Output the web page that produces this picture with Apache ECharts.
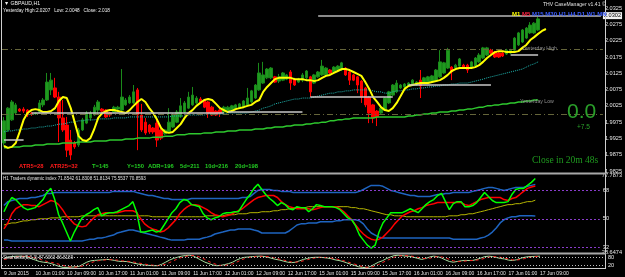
<!DOCTYPE html>
<html><head><meta charset="utf-8">
<script src="https://cdn.jsdelivr.net/npm/echarts@6/dist/echarts.min.js"></script>
<style>html,body{margin:0;padding:0;background:#000;}#c{width:625px;height:277px;}</style>
</head><body><div id="c"></div>
<script>
// ---------- data ----------
const SLOTS = 153; // visible bar slots incl. right shift
const timeLabels = ['9 Jun 2015','10 Jun 01:00','10 Jun 09:00','10 Jun 17:00','11 Jun 01:00','11 Jun 09:00','11 Jun 17:00','12 Jun 01:00','12 Jun 09:00','12 Jun 17:00','15 Jun 01:00','15 Jun 09:00','15 Jun 17:00','16 Jun 01:00','16 Jun 09:00','16 Jun 17:00','17 Jun 01:00','17 Jun 09:00'];
const openP = [
1.9911,1.9951,1.9982,2.0003,2.0015,2.0015,2.0012,2.0003,2.0000,2.0006,
2.0028,2.0043,2.0074,2.0080,2.0052,1.9988,1.9966,1.9920,1.9911,1.9905,
1.9951,1.9972,1.9988,1.9997,2.0012,2.0015,2.0012,2.0003,2.0006,2.0015,
2.0012,2.0028,2.0034,2.0034,2.0074,1.9997,1.9975,1.9966,1.9957,1.9972,
1.9951,1.9939,1.9945,1.9960,1.9975,1.9991,2.0006,2.0018,2.0028,2.0034,
2.0046,2.0043,2.0037,2.0021,2.0009,2.0012,2.0006,2.0009,2.0012,2.0015,
2.0018,2.0021,2.0028,2.0037,2.0049,2.0074,2.0095,2.0111,2.0111,2.0114,
2.0101,2.0104,2.0107,2.0129,2.0107,2.0098,2.0104,2.0111,2.0114,2.0095,
2.0114,2.0120,2.0120,2.0135,2.0129,2.0135,2.0135,2.0141,2.0129,2.0120,
2.0114,2.0101,2.0080,2.0052,2.0028,2.0009,2.0003,2.0012,2.0034,2.0058,
2.0068,2.0080,2.0083,2.0086,2.0089,2.0089,2.0104,2.0095,2.0098,2.0101,
2.0101,2.0114,2.0126,2.0141,2.0144,2.0141,2.0147,2.0150,2.0150,2.0144,
2.0147,2.0160,2.0172,2.0181,2.0196,2.0190,2.0187,2.0187,2.0184,2.0187,
2.0196,2.0212,2.0221,2.0233,2.0249,2.0249,2.0258];
const closeP = [
1.9979,2.0018,2.0037,2.0028,2.0009,2.0009,1.9997,2.0000,2.0003,2.0034,
2.0043,2.0098,2.0104,2.0052,1.9988,1.9951,1.9889,1.9874,1.9899,1.9951,
1.9982,2.0003,2.0003,2.0021,2.0037,2.0009,1.9991,1.9997,2.0021,2.0021,
2.0052,2.0043,2.0052,2.0068,1.9997,1.9951,1.9942,1.9945,1.9945,1.9920,
1.9926,1.9951,1.9975,1.9997,2.0006,2.0025,2.0034,2.0052,2.0058,2.0049,
2.0037,2.0021,2.0003,1.9997,1.9997,2.0003,2.0021,2.0021,2.0025,2.0028,
2.0031,2.0040,2.0049,2.0071,2.0089,2.0126,2.0120,2.0138,2.0141,2.0098,
2.0114,2.0126,2.0120,2.0095,2.0089,2.0107,2.0120,2.0132,2.0068,2.0120,
2.0129,2.0147,2.0141,2.0126,2.0144,2.0147,2.0157,2.0120,2.0104,2.0104,
2.0089,2.0052,2.0028,2.0003,1.9988,1.9991,2.0018,2.0049,2.0068,2.0089,
2.0095,2.0089,2.0092,2.0095,2.0104,2.0098,2.0086,2.0111,2.0114,2.0117,
2.0135,2.0160,2.0157,2.0196,2.0129,2.0150,2.0169,2.0141,2.0135,2.0160,
2.0172,2.0181,2.0203,2.0203,2.0187,2.0175,2.0175,2.0178,2.0196,2.0196,
2.0233,2.0249,2.0258,2.0264,2.0273,2.0279,2.0292];
const highP = [
1.9991,2.0021,2.0043,2.0034,2.0018,2.0021,2.0015,2.0006,2.0006,2.0043,
2.0049,2.0126,2.0126,2.0111,2.0068,2.0043,1.9991,1.9951,1.9917,1.9957,
1.9988,2.0009,2.0009,2.0028,2.0043,2.0018,2.0015,2.0006,2.0025,2.0025,
2.0138,2.0049,2.0058,2.0089,2.0080,2.0031,1.9988,1.9969,1.9960,1.9988,
1.9954,1.9954,2.0018,2.0003,2.0012,2.0049,2.0040,2.0068,2.0083,2.0055,
2.0052,2.0046,2.0040,2.0025,2.0012,2.0015,2.0025,2.0025,2.0028,2.0031,
2.0034,2.0043,2.0080,2.0074,2.0092,2.0157,2.0160,2.0141,2.0144,2.0117,
2.0123,2.0129,2.0123,2.0135,2.0111,2.0111,2.0126,2.0135,2.0117,2.0123,
2.0132,2.0166,2.0144,2.0138,2.0147,2.0150,2.0160,2.0144,2.0132,2.0123,
2.0117,2.0104,2.0083,2.0055,2.0031,2.0012,2.0021,2.0052,2.0071,2.0092,
2.0104,2.0092,2.0095,2.0098,2.0107,2.0101,2.0135,2.0114,2.0117,2.0120,
2.0138,2.0196,2.0160,2.0203,2.0147,2.0154,2.0172,2.0154,2.0154,2.0163,
2.0175,2.0187,2.0206,2.0206,2.0200,2.0193,2.0190,2.0190,2.0200,2.0200,
2.0236,2.0252,2.0261,2.0267,2.0282,2.0282,2.0304];
const lowP = [
1.9902,1.9945,1.9979,2.0000,2.0006,2.0003,1.9991,1.9994,1.9997,2.0003,
2.0021,2.0040,2.0058,2.0049,1.9914,1.9945,1.9868,1.9859,1.9893,1.9899,
1.9948,1.9969,1.9979,1.9994,2.0000,2.0006,1.9988,1.9991,2.0003,2.0012,
2.0009,2.0025,2.0031,2.0031,1.9889,1.9945,1.9936,1.9939,1.9939,1.9899,
1.9920,1.9936,1.9942,1.9957,1.9972,1.9988,2.0003,2.0015,2.0025,2.0031,
2.0034,2.0018,1.9988,1.9994,1.9994,1.9991,2.0003,2.0006,2.0009,2.0012,
2.0015,2.0018,2.0025,2.0034,2.0046,2.0071,2.0092,2.0107,2.0107,2.0095,
2.0095,2.0101,2.0104,2.0074,2.0086,2.0095,2.0098,2.0104,2.0052,2.0092,
2.0111,2.0117,2.0117,2.0123,2.0126,2.0132,2.0132,2.0117,2.0089,2.0101,
2.0064,2.0034,2.0021,1.9972,1.9972,1.9963,2.0000,2.0009,2.0031,2.0055,
2.0064,2.0077,2.0080,2.0083,2.0086,2.0086,2.0049,2.0092,2.0095,2.0098,
2.0098,2.0111,2.0123,2.0138,2.0104,2.0138,2.0144,2.0138,2.0126,2.0141,
2.0144,2.0157,2.0169,2.0178,2.0184,2.0172,2.0172,2.0175,2.0181,2.0184,
2.0193,2.0209,2.0218,2.0230,2.0246,2.0246,2.0255];
const yellowMA = [
1.9902,1.9896,1.9899,1.9911,1.9945,1.9982,2.0003,2.0012,2.0015,2.0012,
2.0006,2.0006,2.0009,2.0018,2.0040,2.0052,2.0049,2.0018,1.9975,1.9932,
1.9920,1.9917,1.9926,1.9954,1.9988,2.0003,2.0009,2.0012,2.0012,2.0009,
2.0006,2.0003,2.0012,2.0025,2.0037,2.0046,2.0037,2.0018,2.0003,1.9982,
1.9957,1.9945,1.9942,1.9945,1.9957,1.9969,1.9988,2.0003,2.0012,2.0025,
2.0034,2.0043,2.0046,2.0043,2.0031,2.0018,2.0012,2.0006,2.0009,2.0015,
2.0018,2.0021,2.0025,2.0028,2.0037,2.0043,2.0068,2.0083,2.0095,2.0107,
2.0111,2.0111,2.0111,2.0111,2.0107,2.0107,2.0107,2.0104,2.0104,2.0101,
2.0104,2.0111,2.0117,2.0120,2.0126,2.0132,2.0138,2.0138,2.0135,2.0129,
2.0123,2.0117,2.0098,2.0077,2.0052,2.0037,2.0021,2.0012,2.0009,2.0018,
2.0034,2.0055,2.0077,2.0086,2.0089,2.0092,2.0095,2.0095,2.0095,2.0098,
2.0101,2.0104,2.0111,2.0120,2.0132,2.0138,2.0141,2.0141,2.0141,2.0141,
2.0144,2.0150,2.0160,2.0172,2.0181,2.0190,2.0193,2.0193,2.0190,2.0190,
2.0190,2.0193,2.0203,2.0212,2.0227,2.0236,2.0246,2.0255,2.0261];
const cyanMA = [
1.9945,1.9948,1.9948,1.9951,1.9951,1.9954,1.9954,1.9957,1.9957,1.9960,
1.9960,1.9963,1.9963,1.9966,1.9969,1.9969,1.9972,1.9975,1.9975,1.9979,
1.9979,1.9982,1.9982,1.9982,1.9985,1.9985,1.9985,1.9985,1.9988,1.9988,
1.9988,1.9988,1.9991,1.9991,1.9991,1.9991,1.9991,1.9991,1.9991,1.9991,
1.9991,1.9991,1.9991,1.9994,1.9994,1.9994,1.9994,1.9997,1.9997,1.9997,
1.9997,1.9997,2.0000,2.0000,2.0000,2.0000,2.0000,2.0003,2.0003,2.0003,
2.0003,2.0003,2.0003,2.0006,2.0009,2.0012,2.0018,2.0021,2.0025,2.0031,
2.0034,2.0037,2.0040,2.0043,2.0046,2.0046,2.0049,2.0049,2.0049,2.0052,
2.0055,2.0058,2.0061,2.0064,2.0064,2.0068,2.0068,2.0071,2.0071,2.0074,
2.0074,2.0074,2.0074,2.0074,2.0071,2.0068,2.0068,2.0064,2.0064,2.0068,
2.0071,2.0071,2.0074,2.0074,2.0077,2.0077,2.0080,2.0080,2.0083,2.0083,
2.0086,2.0086,2.0089,2.0089,2.0092,2.0092,2.0095,2.0095,2.0095,2.0098,
2.0101,2.0104,2.0107,2.0111,2.0114,2.0117,2.0120,2.0123,2.0126,2.0129,
2.0132,2.0135,2.0138,2.0144,2.0150,2.0154,2.0160];
const greenMA = [
1.9896,1.9896,1.9899,1.9899,1.9899,1.9902,1.9902,1.9902,1.9905,1.9905,
1.9905,1.9908,1.9908,1.9908,1.9908,1.9911,1.9911,1.9911,1.9911,1.9914,
1.9914,1.9914,1.9914,1.9917,1.9917,1.9917,1.9917,1.9920,1.9920,1.9920,
1.9920,1.9923,1.9923,1.9923,1.9926,1.9926,1.9926,1.9926,1.9929,1.9929,
1.9929,1.9932,1.9932,1.9932,1.9936,1.9936,1.9936,1.9939,1.9939,1.9939,
1.9939,1.9942,1.9942,1.9942,1.9945,1.9945,1.9945,1.9948,1.9948,1.9948,
1.9951,1.9951,1.9951,1.9951,1.9954,1.9954,1.9954,1.9957,1.9957,1.9960,
1.9960,1.9960,1.9963,1.9963,1.9966,1.9966,1.9966,1.9969,1.9969,1.9972,
1.9972,1.9975,1.9975,1.9979,1.9979,1.9982,1.9982,1.9985,1.9985,1.9988,
1.9988,1.9988,1.9988,1.9988,1.9988,1.9991,1.9991,1.9991,1.9991,1.9991,
1.9991,1.9991,1.9991,1.9994,1.9994,1.9997,1.9997,2.0000,2.0000,2.0003,
2.0003,2.0006,2.0006,2.0006,2.0009,2.0009,2.0012,2.0012,2.0015,2.0015,
2.0018,2.0021,2.0021,2.0025,2.0025,2.0028,2.0028,2.0031,2.0031,2.0034,
2.0034,2.0037,2.0037,2.0040,2.0040,2.0043,2.0043];
// daily reference segments: [startBar, endBar, price]
const dayLines = [[0,5,1.9920],[7,56,2.0003],[57,76,2.0006],[78,99,2.0052],[103,124,2.0089],[129,136,2.0181]];
const yesterdayHigh = 2.0207, yesterdayLow = 2.0048, bidPrice = 2.0302;
const priceTicks = {min:1.9825, max:2.0350, step:0.0025};

const tdiRsi = [
54.5,59.6,63.5,62.2,59.6,57.1,55.8,56.4,57.1,59.6,
62.2,66.7,69.3,62.2,52.6,47.4,41.6,35.9,41.6,46.1,
50.6,52.6,53.9,55.8,57.1,51.9,53.2,53.9,53.9,54.5,
55.8,57.1,58.4,60.9,53.9,41.6,41.6,42.3,42.9,41.6,
42.3,46.1,50.0,53.9,56.4,60.3,62.2,61.6,59.0,58.4,
57.7,53.2,50.6,49.4,50.6,51.3,53.2,53.9,53.9,54.5,
54.5,58.4,62.2,65.4,69.3,71.9,68.6,65.4,62.9,60.9,
58.4,60.3,59.0,56.4,55.8,57.7,57.1,57.1,54.5,56.4,
59.0,58.4,57.7,57.7,57.7,57.1,55.8,53.2,50.6,49.4,
45.5,39.7,36.5,33.3,31.4,33.3,41.6,47.4,50.6,53.9,
53.9,53.9,53.9,55.1,56.4,55.1,53.9,56.4,59.0,60.9,
62.2,64.8,66.1,60.9,55.8,59.6,60.9,60.9,57.7,57.7,
58.4,60.3,63.5,66.7,64.1,61.6,60.3,60.3,60.3,60.9,
65.4,68.6,69.3,69.3,71.2,73.1,75.55];
const tdiSignal = [
43.6,47.4,53.2,56.4,57.7,59.0,59.0,58.4,58.4,57.7,
59.0,60.3,61.6,60.9,59.0,55.8,51.9,49.4,46.8,45.5,
44.9,45.5,48.1,50.6,52.6,53.2,53.9,53.9,53.9,53.9,
54.5,55.1,55.1,55.1,53.9,50.0,46.8,44.9,43.6,42.9,
41.6,42.3,44.2,46.8,49.4,53.2,55.8,57.7,59.0,59.0,
58.4,57.1,55.8,53.9,52.6,51.9,51.3,51.9,52.6,53.9,
55.1,56.4,58.4,60.3,62.2,63.5,64.1,64.8,64.8,64.8,
63.5,60.9,59.0,57.7,57.1,56.4,56.4,56.4,56.4,55.8,
56.4,57.1,57.7,57.7,57.7,57.7,56.4,54.5,51.9,49.4,
46.1,42.9,40.4,38.4,37.1,36.5,37.1,38.4,41.0,43.6,
46.8,49.4,51.9,53.2,54.5,55.1,56.4,57.1,58.4,59.0,
59.6,60.3,60.3,60.3,60.3,60.3,60.3,60.3,59.0,58.4,
59.6,60.9,62.2,62.9,63.5,63.5,63.5,63.5,62.2,61.6,
62.9,63.5,65.4,67.4,69.3,70.2,70.86];
const tdiBase = [
46.1,46.8,47.4,47.4,48.1,48.7,48.7,49.4,49.4,50.0,
50.0,50.0,50.6,50.6,50.6,51.3,51.3,51.3,51.3,51.3,
51.9,51.9,51.9,51.9,51.9,51.9,51.9,51.9,51.9,51.9,
51.9,51.9,51.9,51.9,51.9,51.9,51.9,51.9,51.3,51.3,
51.3,51.3,51.3,51.3,51.3,51.3,51.3,51.3,51.3,51.3,
51.3,51.3,51.9,51.9,51.9,51.9,51.9,52.6,52.6,52.6,
53.2,53.2,53.2,53.9,53.9,53.9,54.5,54.5,54.5,55.1,
55.1,55.8,55.8,56.4,56.4,57.1,57.1,57.1,57.7,57.7,
57.7,57.7,57.7,57.7,57.7,57.7,57.7,57.7,57.7,57.1,
57.1,56.4,56.4,55.8,55.1,54.5,53.9,53.2,52.6,52.6,
51.9,51.9,51.9,51.3,51.3,51.3,51.3,51.3,51.3,51.3,
51.3,51.3,51.3,51.3,51.9,51.9,51.9,52.6,52.6,53.2,
53.2,53.9,54.5,55.1,55.8,56.4,57.1,57.7,58.4,59.0,
59.0,59.6,59.6,60.3,60.9,60.9,61.83];
const tdiUpper = [
58.4,60.9,61.6,62.2,62.9,62.9,62.9,63.5,63.5,64.1,
64.8,66.1,66.1,66.7,66.7,66.7,66.7,66.7,66.7,66.7,
66.7,66.7,66.7,66.7,66.7,66.7,66.7,66.7,67.4,67.4,
67.4,67.4,67.4,67.4,66.7,66.1,65.4,64.8,64.8,64.1,
63.5,62.9,62.9,62.2,62.2,62.2,62.2,62.2,62.9,62.9,
62.9,62.9,62.9,62.9,62.9,62.9,62.9,62.9,62.9,62.9,
62.9,63.5,63.5,64.1,66.1,68.0,68.6,68.6,68.6,68.0,
68.0,67.4,67.4,67.4,66.7,66.7,66.7,66.7,66.7,66.7,
66.7,66.7,66.7,66.7,66.7,66.7,66.7,66.7,66.7,66.7,
66.7,67.4,68.6,69.9,71.2,71.2,71.2,70.6,69.3,68.0,
67.4,66.7,66.1,65.4,64.8,64.8,64.1,64.1,64.1,64.1,
64.8,65.4,65.4,66.1,66.1,66.7,66.7,66.7,66.7,66.7,
67.4,68.0,68.6,69.3,69.9,69.9,69.3,68.6,68.0,68.6,
69.3,69.9,69.9,69.9,70.6,71.2,71.85];
const tdiLower = [
36.5,36.5,35.9,35.9,35.9,35.9,35.9,35.9,35.9,35.9,
35.9,35.9,35.9,35.9,35.9,35.9,35.9,35.9,35.9,35.9,
35.9,36.5,37.1,37.1,37.8,37.8,38.4,39.1,39.7,41.0,
41.6,42.3,42.9,42.9,42.3,41.6,41.0,40.4,39.7,39.1,
38.4,37.8,37.1,36.5,36.5,36.5,36.5,37.1,37.1,37.1,
37.1,37.8,38.4,39.1,40.4,41.0,41.6,42.3,42.9,42.9,
43.6,43.6,43.6,43.6,42.9,42.3,41.0,41.0,41.0,41.0,
41.0,41.0,41.0,42.3,44.2,46.1,46.8,46.8,47.4,47.4,
47.4,48.1,48.1,48.1,48.1,48.7,48.7,49.4,49.4,49.4,
49.4,48.7,46.8,43.6,41.0,39.7,38.4,37.8,37.8,37.8,
37.8,37.8,37.8,37.8,37.8,37.8,37.8,37.8,37.8,37.8,
37.8,37.8,37.8,37.8,37.8,37.1,37.1,37.1,37.1,37.1,
37.1,37.1,37.8,38.4,39.7,41.6,44.2,47.4,49.4,50.6,
51.3,51.3,51.9,51.9,51.9,51.9,51.81];
const tdiRange = {min:28.6474, max:77.7873};
const tdiLevels = [68, 50, 32];

const stochMain = [
72,80,85,88,88,87,80,70,60,50,
45,42,35,25,15,8,8,10,12,15,
30,45,55,58,60,62,65,63,58,52,
50,50,45,38,32,27,24,22,20,20,
30,45,60,72,80,88,92,95,90,75,
60,45,35,25,20,22,28,35,45,60,
72,80,82,85,87,88,86,80,72,65,
60,52,45,42,45,55,65,72,78,80,
80,78,75,70,62,57,50,40,30,22,
12,8,5,15,30,45,55,70,82,92,
95,92,88,87,80,72,65,72,82,88,
85,75,62,50,45,50,55,58,57,58,
65,75,85,88,85,78,72,68,60,57,
62,72,80,84,86,87,88];
const stochSignal = [
65,70,76,82,86,87,86,82,75,67,
58,50,44,38,30,22,15,11,10,12,
18,28,40,50,56,59,62,63,62,59,
55,52,50,46,40,35,30,26,23,21,
23,30,42,55,68,78,86,91,93,88,
78,65,50,38,28,22,22,26,33,45,
58,70,78,82,85,87,87,85,80,73,
66,60,53,47,45,48,55,63,70,76,
79,80,78,75,70,64,57,49,40,31,
22,14,9,9,15,28,42,55,68,80,
88,92,92,90,86,80,73,70,73,80,
85,83,76,65,55,49,50,53,56,57,
60,65,73,80,85,84,80,74,68,62,
60,64,70,77,82,85,87];
const stochLevels = [80, 20];

// ---------- chart ----------
const FONT = 'Liberation Sans, Arial, sans-serif';
const cats = Array.from({length: SLOTS}, (_, i) => String(i));
const candles = openP.map((o, i) => [o, closeP[i], lowP[i], highP[i]]);
const chart = echarts.init(document.getElementById('c'), null, {renderer: 'canvas'});

const gridL = 2, gridR = 20;
const yLabel = {color: '#e6e6e6', fontSize: 5.6, fontFamily: FONT, margin: 2, align: 'left'};
function xAx(gi, show) {
  return {type: 'category', gridIndex: gi, data: cats, boundaryGap: true,
    axisLine: {show: false}, axisTick: {show: false}, splitLine: {show: false},
    axisLabel: show ? {show: true, interval: 7, color: '#e6e6e6', fontSize: 5, fontFamily: FONT,
      margin: 2.5, align: 'left', formatter: (v, idx) => (idx % 8 === 0 && timeLabels[idx / 8]) ? timeLabels[idx / 8] : ''} : {show: false}};
}
const near = (a, b) => Math.abs(a - b) < 1e-7;

const option = {
  backgroundColor: '#000',
  animation: false,
  grid: [
    {left: gridL, right: gridR, top: 0, height: 171},
    {left: gridL, right: gridR, top: 175, height: 77.5},
    {left: gridL, right: gridR, top: 254.5, height: 14}
  ],
  xAxis: [xAx(0, false), xAx(1, false), xAx(2, true)],
  yAxis: [
    {type: 'value', gridIndex: 0, position: 'right', min: priceTicks.min, max: priceTicks.max, interval: priceTicks.step,
      axisLine: {show: false}, axisTick: {show: false}, splitLine: {show: false},
      axisLabel: Object.assign({}, yLabel, {formatter: v => (Math.round(v / priceTicks.step) % 2 === 1) ? v.toFixed(4) : ''})},
    {type: 'value', gridIndex: 1, position: 'right', min: tdiRange.min, max: tdiRange.max,
      axisLine: {show: false}, axisTick: {show: false}, splitLine: {show: false},
      axisLabel: Object.assign({}, yLabel, {showMinLabel: true, showMaxLabel: true,
        formatter: v => (near(v, tdiRange.min) || near(v, tdiRange.max)) ? v.toFixed(4) : ''})},
    {type: 'value', gridIndex: 2, position: 'right', min: 0, max: 100,
      axisLine: {show: false}, axisTick: {show: false}, splitLine: {show: false}, axisLabel: {show: false}}
  ],
  series: [
    {type: 'candlestick', xAxisIndex: 0, yAxisIndex: 0, data: candles, barWidth: 3,
      itemStyle: {color: '#1f9a1f', color0: '#ff0000', borderColor: '#1a8a1a', borderColor0: '#ff0000', borderWidth: 1},
      markLine: {symbol: 'none', silent: true, animation: false,
        data: [
          {yAxis: yesterdayHigh, lineStyle: {color: '#65653a', width: 1, type: [6, 3, 1, 3]}, label: {show: false}},
          {yAxis: yesterdayLow, lineStyle: {color: '#65653a', width: 1, type: [6, 3, 1, 3]}, label: {show: false}},
          [{coord: [80, bidPrice], lineStyle: {color: '#8a8a8a', width: 2, type: 'solid'},
            label: {show: true, position: 'end', formatter: bidPrice.toFixed(4), backgroundColor: '#f0f0f0', color: '#000',
              fontSize: 5.6, fontFamily: FONT, padding: [1, 1, 0, 1], distance: 2}},
           {coord: [SLOTS - 1, bidPrice]}]
        ].concat(dayLines.map(d => [{coord: [d[0], d[2]], lineStyle: {color: '#c8c8c8', width: 1.5, type: 'solid'}, label: {show: false}}, {coord: [d[1], d[2]]}]))
      }},
    {type: 'line', xAxisIndex: 0, yAxisIndex: 0, data: greenMA, symbol: 'none', lineStyle: {color: '#2ec82e', width: 1.5}},
    {type: 'line', xAxisIndex: 0, yAxisIndex: 0, data: cyanMA, symbol: 'none', lineStyle: {color: '#1fb5b0', width: 1, type: 'dotted'}},
    {type: 'line', xAxisIndex: 0, yAxisIndex: 0, data: yellowMA, symbol: 'none', lineStyle: {color: '#ffff00', width: 2}},
    // TDI
    {type: 'line', xAxisIndex: 1, yAxisIndex: 1, data: tdiLower, symbol: 'none', lineStyle: {color: '#1e64c0', width: 1.5},
      markLine: {symbol: 'none', silent: true, animation: false,
        lineStyle: {color: '#8a3ccc', width: 1, type: [2, 2]},
        label: {show: true, position: 'end', color: '#e6e6e6', fontSize: 5.6, fontFamily: FONT, distance: 3, formatter: p => String(p.value)},
        data: tdiLevels.map(v => ({yAxis: v}))}},
    {type: 'line', xAxisIndex: 1, yAxisIndex: 1, data: tdiUpper, symbol: 'none', lineStyle: {color: '#1e64c0', width: 1.5}},
    {type: 'line', xAxisIndex: 1, yAxisIndex: 1, data: tdiBase, symbol: 'none', lineStyle: {color: '#b4b400', width: 1}},
    {type: 'line', xAxisIndex: 1, yAxisIndex: 1, data: tdiSignal, symbol: 'none', lineStyle: {color: '#ff0000', width: 1.5}},
    {type: 'line', xAxisIndex: 1, yAxisIndex: 1, data: tdiRsi, symbol: 'none', lineStyle: {color: '#00ff00', width: 1.5}},
    // Stochastic
    {type: 'line', xAxisIndex: 2, yAxisIndex: 2, data: stochMain, symbol: 'none', lineStyle: {color: '#a8e0a0', width: 1},
      markLine: {symbol: 'none', silent: true, animation: false,
        lineStyle: {color: '#bdbdbd', width: 1, type: [1, 2]},
        label: {show: true, position: 'end', color: '#e6e6e6', fontSize: 5.6, fontFamily: FONT, distance: 3, formatter: p => String(p.value)},
        data: stochLevels.map(v => ({yAxis: v}))}},
    {type: 'line', xAxisIndex: 2, yAxisIndex: 2, data: stochSignal, symbol: 'none', lineStyle: {color: '#ff2020', width: 1, type: [3, 3]}}
  ],
  graphic: [
    {type: 'line', silent: true, z: 100, shape: {x1: 1.5, y1: 0, x2: 1.5, y2: 269}, style: {stroke: '#cfcfcf', lineWidth: 1}},
    {type: 'line', silent: true, z: 100, shape: {x1: 605.5, y1: 0, x2: 605.5, y2: 269}, style: {stroke: '#cfcfcf', lineWidth: 1}},
    {type: 'rect', silent: true, z: 100, shape: {x: 2, y: 172.5, width: 604, height: 2}, style: {fill: '#a8a8a8'}},
    {type: 'rect', silent: true, z: 100, shape: {x: 2, y: 252.5, width: 604, height: 2}, style: {fill: '#a8a8a8'}},
    {type: 'line', silent: true, z: 100, shape: {x1: 2, y1: 268.5, x2: 606, y2: 268.5}, style: {stroke: '#cfcfcf', lineWidth: 1}},
    {type: 'text', z: 101, x: 4, y: 1.5, style: {text: '\u25BC GBPAUD,H1', fill: '#f0f0f0', fontSize: 5.2, fontFamily: FONT}},
    {type: 'text', z: 101, x: 3, y: 8.5, style: {text: 'Yesterday High:2.0207   Low: 2.0048   Close: 2.018', fill: '#f0f0f0', fontSize: 4.7, fontFamily: FONT}},
    {type: 'text', z: 101, x: 543, y: 2.5, style: {text: 'THV CaseManager v1.41 \u00A9', fill: '#e0e0e0', fontSize: 5.1, fontFamily: FONT}},
    {type: 'text', z: 101, x: 512, y: 11, style: {
      text: '{a|M1} {b|M5} {c|M15 M30 H1 H4 D1 W1 MN}', fontSize: 6, fontFamily: FONT, fontWeight: 'bold',
      rich: {a: {fill: '#ffff00', fontSize: 6, fontWeight: 'bold', fontFamily: FONT},
             b: {fill: '#ff2040', fontSize: 6, fontWeight: 'bold', fontFamily: FONT},
             c: {fill: '#3a5cff', fontSize: 6, fontWeight: 'bold', fontFamily: FONT}}}},
    {type: 'text', z: 101, x: 522, y: 46, style: {text: 'Yesterday High', fill: '#909090', fontSize: 5.2, fontFamily: FONT}},
    {type: 'text', z: 101, x: 520, y: 99, style: {text: 'Yesterday Low', fill: '#909090', fontSize: 5.2, fontFamily: FONT}},
    {type: 'text', z: 101, x: 567, y: 101.5, style: {text: '0.0', fill: '#2aa02a', fontSize: 21, fontFamily: FONT}},
    {type: 'text', z: 101, x: 577, y: 124, style: {text: '+7.5', fill: '#2aa02a', fontSize: 6.6, fontFamily: FONT}},
    {type: 'text', z: 101, x: 532, y: 155.5, style: {text: 'Close in 20m 48s', fill: '#1f9a1f', fontSize: 9.5, fontFamily: 'Liberation Serif, DejaVu Serif, serif'}},
    {type: 'text', z: 101, x: 19, y: 163, style: {text: 'ATR5=28', fill: '#ff1a1a', fontSize: 5.8, fontWeight: 'bold', fontFamily: FONT}},
    {type: 'text', z: 101, x: 50, y: 163, style: {text: 'ATR25=32', fill: '#ff1a1a', fontSize: 5.8, fontWeight: 'bold', fontFamily: FONT}},
    {type: 'text', z: 101, x: 92, y: 163, style: {text: 'T=145', fill: '#22cc22', fontSize: 5.8, fontWeight: 'bold', fontFamily: FONT}},
    {type: 'text', z: 101, x: 127, y: 163, style: {text: 'Y=150', fill: '#22cc22', fontSize: 5.8, fontWeight: 'bold', fontFamily: FONT}},
    {type: 'text', z: 101, x: 148, y: 163, style: {text: 'ADR=196', fill: '#22cc22', fontSize: 5.8, fontWeight: 'bold', fontFamily: FONT}},
    {type: 'text', z: 101, x: 180, y: 163, style: {text: '5d=211', fill: '#22cc22', fontSize: 5.8, fontWeight: 'bold', fontFamily: FONT}},
    {type: 'text', z: 101, x: 205, y: 163, style: {text: '10d=216', fill: '#22cc22', fontSize: 5.8, fontWeight: 'bold', fontFamily: FONT}},
    {type: 'text', z: 101, x: 235, y: 163, style: {text: '20d=198', fill: '#22cc22', fontSize: 5.8, fontWeight: 'bold', fontFamily: FONT}},
    {type: 'text', z: 101, x: 3, y: 176, style: {text: 'H1 Traders dynamic index 71.8542 61.8308 51.8134 75.5537 70.8593', fill: '#e0e0e0', fontSize: 4.6, fontFamily: FONT}},
    {type: 'text', z: 101, x: 3, y: 255.5, style: {text: 'Stochastic(5,3,3) 87.6063 86.8189', fill: '#e0e0e0', fontSize: 4.6, fontFamily: FONT}}
  ]
};
chart.setOption(option);
</script>
</body></html>
